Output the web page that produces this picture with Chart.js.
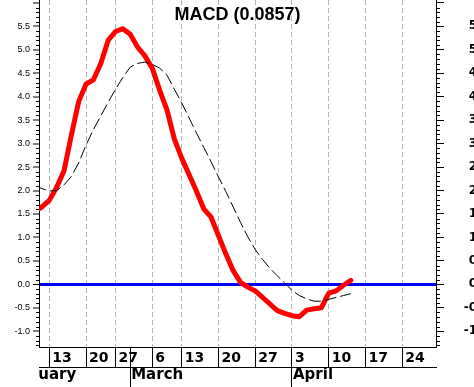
<!DOCTYPE html>
<html><head><meta charset="utf-8">
<script src="https://cdn.jsdelivr.net/npm/chart.js@4.4.1/dist/chart.umd.min.js"></script>
<style>html,body{margin:0;padding:0;background:#fff;overflow:hidden;width:474px;height:387px}canvas{display:block}</style>
</head><body><canvas id="c" width="490" height="387"></canvas>
<script>
// ---- data ----
const titleText = 'MACD (0.0857)';
const firstDay = -2; // trading-day index of first value (Feb 13 = 0)
const macd = [1.55,1.65,1.79,2.07,2.42,3.18,3.90,4.27,4.36,4.71,5.20,5.39,5.45,5.33,5.06,4.87,4.61,4.14,3.72,3.10,2.69,2.34,1.99,1.61,1.43,1.04,0.65,0.29,0.04,-0.06,-0.14,-0.28,-0.42,-0.56,-0.62,-0.67,-0.69,-0.55,-0.52,-0.50,-0.19,-0.14,-0.02,0.0857];
const signal = [2.11,2.04,1.99,2.00,2.12,2.30,2.59,2.97,3.30,3.59,3.88,4.16,4.41,4.63,4.71,4.74,4.69,4.61,4.46,4.16,3.87,3.55,3.23,2.92,2.61,2.29,1.98,1.65,1.32,1.01,0.74,0.53,0.34,0.18,0.03,-0.13,-0.24,-0.31,-0.36,-0.36,-0.32,-0.28,-0.24,-0.20];
const dayTickIdx = [0,5,9,14,18,23,28,33,38,43,48];
const dayTickLabels = ['13','20','27','6','13','20','27','3','10','17','24'];
const monthStartIdx = [-6.8,11,33];
const monthLabels = ['February','March','April'];
const yTickValues = [-1.0,-0.5,0.0,0.5,1.0,1.5,2.0,2.5,3.0,3.5,4.0,4.5,5.0,5.5,6.0];
const yTickLabels = ['-1.0','-0.5','0.0','0.5','1.0','1.5','2.0','2.5','3.0','3.5','4.0','4.5','5.0','5.5',''];
const xMin = -1.4, xMax = 52.58, yMin = -1.337, yMax = 6.062;
const yMinorStep = 0.1;

// ---- custom scale: month labels clipped to plot width ----
class ClippedLinear extends Chart.LinearScale {
  drawLabels(area) {
    const ctx = this.ctx, a = this.chart.chartArea;
    ctx.save();
    ctx.beginPath();
    ctx.rect(a.left, this.top, a.right - a.left, this.bottom - this.top);
    ctx.clip();
    super.drawLabels(area);
    ctx.restore();
  }
}
ClippedLinear.id = 'clippedLinear';
ClippedLinear.defaults = Chart.LinearScale.defaults;
Chart.register(ClippedLinear);

const isZero = v => Math.abs(v) < 1e-9;
const zeroPad = s => { s.paddingLeft = 0; s.paddingRight = 0; s.paddingTop = 0; s.paddingBottom = 0; };
const yLabel = v => { const i = yTickValues.findIndex(t => Math.abs(t - v) < 1e-9); return i >= 0 ? yTickLabels[i] : ''; };

const xTickValues = dayTickIdx.concat(monthStartIdx.filter(v => v >= xMin && v <= xMax && !dayTickIdx.includes(v))).sort((a,b)=>a-b);

const decor = {
  id: 'decor',
  afterDraw(chart) {
    const ctx = chart.ctx, a = chart.chartArea, y = chart.scales.y;
    ctx.save();
    ctx.strokeStyle = '#000'; ctx.lineWidth = 1;
    ctx.beginPath();
    for (let k = Math.ceil(yMin / yMinorStep); k <= Math.floor(yMax / yMinorStep); k++) {
      if (k % 5 === 0) continue;
      const p = Math.round(y.getPixelForValue(k * yMinorStep)) + 0.5;
      ctx.moveTo(a.left - 3, p); ctx.lineTo(a.left, p);
      ctx.moveTo(a.right, p); ctx.lineTo(a.right + 4, p);
    }
    ctx.stroke();
    ctx.fillStyle = '#000';
    ctx.font = 'bold 18px "Liberation Sans", Arial, sans-serif';
    ctx.textAlign = 'center'; ctx.textBaseline = 'alphabetic';
    ctx.fillText(titleText, (a.left + a.right) / 2, 20);
    ctx.restore();
  }
};

Chart.defaults.color = '#000';
new Chart(document.getElementById('c'), {
  type: 'line',
  data: {
    datasets: [
      { label: 'Signal', data: signal.map((v,i)=>({x:firstDay+i,y:v})), borderColor:'#000', borderWidth:1, borderDash:[12,4], pointRadius:0, fill:false, tension:0, clip:0, xAxisID:'x', yAxisID:'y' },
      { label: 'MACD', data: macd.map((v,i)=>({x:firstDay+i,y:v})), borderColor:'#ff0000', borderWidth:5, borderJoinStyle:'round', borderCapStyle:'round', pointRadius:0, fill:false, tension:0, clip:0, xAxisID:'x', yAxisID:'y' }
    ]
  },
  options: {
    responsive:false, devicePixelRatio:1, animation:false,
    layout:{ padding:0 },
    plugins:{ legend:{display:false}, tooltip:{enabled:false}, title:{display:false} },
    scales:{
      x:{
        type:'linear', position:'bottom', weight:0, min:xMin, max:xMax, bounds:'data',
        afterBuildTicks: s => { s.ticks = xTickValues.map(v=>({value:v})); },
        afterFit: s => { s.height = 20; zeroPad(s); },
        grid:{ drawOnChartArea:true, drawTicks:true, tickLength:20, tickColor:'#000', tickWidth:1, lineWidth:1,
          color: c => (c.tick && !dayTickIdx.includes(c.tick.value)) ? 'rgba(0,0,0,0)' : '#b4b4b4' },
        border:{ display:true, color:'#000', width:1, dash:[5,3] },
        ticks:{ autoSkip:false, maxRotation:0, minRotation:0, align:'start', labelOffset:3, padding:-17,
          font:{ family:'"DejaVu Sans"', weight:'bold', size:14 },
          callback: v => { const i = dayTickIdx.indexOf(v); return i >= 0 ? dayTickLabels[i] : ''; } }
      },
      x2:{
        type:'clippedLinear', position:'bottom', weight:1, min:xMin, max:xMax, bounds:'data',
        afterBuildTicks: s => { s.ticks = monthStartIdx.map(v=>({value:v})); },
        afterFit: s => { s.height = 20; zeroPad(s); },
        grid:{ drawOnChartArea:false, drawTicks:true, tickLength:20, tickColor:'#000', tickWidth:1 },
        border:{ display:true, color:'#000', width:1 },
        ticks:{ autoSkip:false, maxRotation:0, minRotation:0, align:'start', labelOffset:1, padding:-21,
          font:{ family:'"DejaVu Sans"', weight:'bold', size:15 },
          callback: v => { const i = monthStartIdx.indexOf(v); return i >= 0 ? monthLabels[i] : ''; } }
      },
      y:{
        type:'linear', position:'left', min:yMin, max:yMax, bounds:'data',
        afterBuildTicks: s => { s.ticks = yTickValues.map(v=>({value:v})); },
        afterFit: s => { s.width = 39; zeroPad(s); },
        grid:{ drawOnChartArea:true, drawTicks:true, tickLength:6, tickColor:'#000', tickWidth:1,
          color: c => (c.tick && isZero(c.tick.value)) ? '#0000ff' : 'rgba(0,0,0,0)',
          lineWidth: c => (c.tick && isZero(c.tick.value)) ? 3 : 0 },
        border:{ display:true, color:'#000', width:1 },
        ticks:{ padding:3, autoSkip:false,
          font:{ family:'"Liberation Sans", Arial', size:9 },
          callback: v => yLabel(v) }
      },
      y2:{
        type:'linear', position:'right', min:yMin, max:yMax, bounds:'data',
        afterBuildTicks: s => { s.ticks = yTickValues.map(v=>({value:v})); },
        afterFit: s => { s.width = 54; zeroPad(s); },
        grid:{ drawOnChartArea:false, drawTicks:true, tickLength:8, tickColor:'#000', tickWidth:1 },
        border:{ display:true, color:'#000', width:1 },
        ticks:{ padding:10, crossAlign:'far', autoSkip:false,
          font:{ family:'"DejaVu Sans"', weight:'bold', size:12 },
          callback: v => yLabel(v) }
      }
    }
  },
  plugins:[decor]
});
</script>
</body></html>
